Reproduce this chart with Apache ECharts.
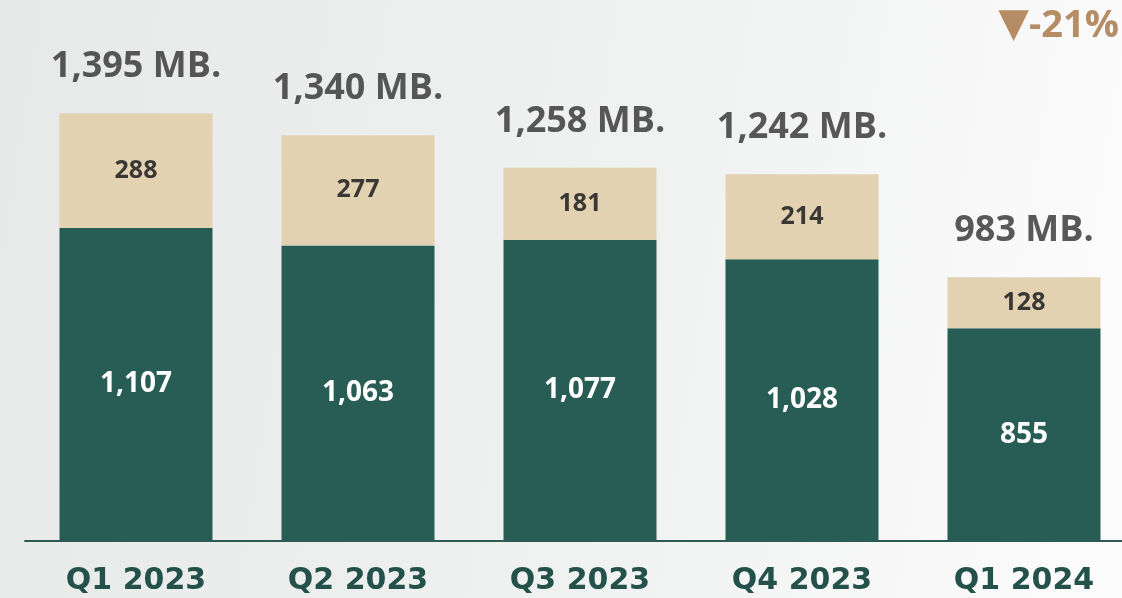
<!DOCTYPE html>
<html>
<head>
<meta charset="utf-8">
<script src="https://cdn.jsdelivr.net/npm/echarts@6/dist/echarts.min.js"></script>
<style>
  html, body { margin: 0; padding: 0; }
  #chart { width: 1122px; height: 598px; }
</style>
</head>
<body>
<div id="chart"></div>
<script>
// quarterly volumes, MB.
const quarters = ['Q1 2023', 'Q2 2023', 'Q3 2023', 'Q4 2023', 'Q1 2024'];
const baseValues = [1107, 1063, 1077, 1028, 855];
const topValues = [288, 277, 181, 214, 128];
const totals = [1395, 1340, 1258, 1242, 983];
const changeText = '-21%';

const green = '#285d56';
const sand = '#e3d2b2';

var chart = echarts.init(document.getElementById('chart'));

var option = {
  backgroundColor: {
    type: 'linear', x: 0, y: 0, x2: 1, y2: 0.3,
    colorStops: [
      { offset: 0, color: '#e7e8e8' },
      { offset: 0.6, color: '#f0f1f1' },
      { offset: 1, color: '#fbfbfb' }
    ]
  },
  animation: false,
  grid: { left: 25, width: 1110, top: 0, bottom: 57, outerBoundsMode: 'none' },
  xAxis: {
    type: 'category',
    data: quarters,
    axisTick: { show: false },
    axisLine: { lineStyle: { color: '#2d5a52', width: 2 } },
    axisLabel: {
      color: '#24524b',
      fontFamily: 'DejaVu Sans',
      fontWeight: 'bold',
      fontSize: 30,
      margin: 25
    }
  },
  yAxis: {
    type: 'value',
    min: 320,
    max: 1680,
    show: false,
    splitLine: { show: false }
  },
  series: [
    {
      type: 'bar',
      stack: 'total',
      barWidth: 153,
      data: baseValues,
      itemStyle: { color: green },
      label: {
        show: true,
        position: 'inside',
        color: '#ffffff',
        fontFamily: 'Open Sans',
        fontWeight: 'bold',
        fontSize: 28,
        formatter: p => p.value.toLocaleString('en-US')
      }
    },
    {
      type: 'bar',
      stack: 'total',
      barWidth: 153,
      data: topValues,
      itemStyle: { color: sand },
      label: {
        show: true,
        position: 'inside',
        color: '#3a3835',
        fontFamily: 'Open Sans',
        fontWeight: 'bold',
        fontSize: 25
      }
    },
    {
      // invisible points carrying the total labels
      type: 'scatter',
      data: totals,
      symbolSize: 1,
      itemStyle: { color: 'transparent' },
      label: {
        show: true,
        position: 'top',
        distance: 28,
        color: '#303030',
        fontFamily: 'Open Sans',
        fontWeight: 'bold',
        fontSize: 36,
        formatter: p => p.value.toLocaleString('en-US') + ' MB.'
      }
    }
  ],
  graphic: [
    {
      type: 'text',
      right: 3,
      top: 6,
      style: {
        text: '{tri|▼}{pct|' + changeText + '}',
        rich: {
          tri: { fill: '#b58c63', fontFamily: 'DejaVu Sans', fontSize: 40, verticalAlign: 'middle' },
          pct: { fill: '#b58c63', fontFamily: 'Open Sans', fontWeight: 'bold', fontSize: 38, verticalAlign: 'middle' }
        }
      }
    }
  ]
};

chart.setOption(option);
</script>
</body>
</html>
